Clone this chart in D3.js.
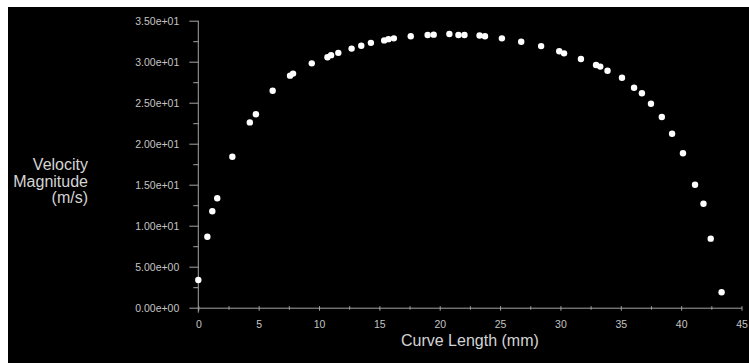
<!DOCTYPE html>
<html>
<head>
<meta charset="utf-8">
<script src="https://cdn.jsdelivr.net/npm/d3@7"></script>
<style>
  html, body { margin: 0; padding: 0; background: #fff; overflow: hidden; }
  body { padding: 7px 0 0 8px; }
  svg { display: block; background: #000; }
  text { font-family: "Liberation Sans", Arial, sans-serif; }
</style>
</head>
<body>
<svg width="741" height="356"></svg>
<script>
// velocity along the curve
var curveLength = [0, 0.75, 1.16, 1.57, 2.82, 4.27, 4.77, 6.16, 7.6, 7.85, 9.4,
    10.7, 11.0, 11.6, 12.7, 13.5, 14.3, 15.4, 15.75, 16.2, 17.6, 19.0, 19.5,
    20.8, 21.55, 22.05, 23.3, 23.75, 25.15, 26.75, 28.4, 29.9, 30.3, 31.7,
    32.95, 33.3, 33.9, 35.1, 36.1, 36.75, 37.5, 38.4, 39.25, 40.15, 41.15,
    41.85, 42.45, 43.35];
var velocity = [3.38, 8.66, 11.76, 13.34, 18.41, 22.6, 23.6, 26.46, 28.3, 28.55, 29.8,
    30.55, 30.8, 31.08, 31.6, 31.95, 32.3, 32.6, 32.75, 32.85, 33.1, 33.25, 33.3,
    33.38, 33.26, 33.26, 33.2, 33.1, 32.85, 32.44, 31.9, 31.27, 31.02, 30.33,
    29.6, 29.4, 28.9, 28.05, 26.83, 26.15, 24.88, 23.26, 21.22, 18.83, 15.0,
    12.68, 8.42, 1.88];

var xTicks = [0, 5, 10, 15, 20, 25, 30, 35, 40, 45];
var xMinor = [2.5, 7.5, 12.5, 17.5, 22.5, 27.5, 32.5, 37.5, 42.5];
var yTicks = [0, 5, 10, 15, 20, 25, 30, 35];
var yMinor = [2.5, 7.5, 12.5, 17.5, 22.5, 27.5, 32.5];

var yTitle = ["Velocity", "Magnitude", "(m/s)"];
var xTitle = "Curve Length (mm)";

var svg = d3.select("svg");

var x = d3.scaleLinear().domain([0, 45]).range([190.3, 733.5]);
var y = d3.scaleLinear().domain([0, 35]).range([300.7, 13.7]);

var lineColor = "#a4a4a4",
    labelColor = "#c4c4c4";

// exponent with two digits like 3.50e+01
function sci(v) {
    var s = d3.format(".2e")(v);
    return s.replace(/e([+-])(\d)$/, "e$10$2");
}

// y axis
var gy = svg.append("g")
    .attr("transform", "translate(" + x(0) + ",0)")
    .call(d3.axisLeft(y).tickValues(yTicks).tickFormat(sci)
        .tickSizeInner(9).tickSizeOuter(0).tickPadding(10));
gy.append("g")
    .call(d3.axisLeft(y).tickValues(yMinor).tickFormat("").tickSize(5));
gy.selectAll("g g .domain").remove();
gy.select(".domain")
    .attr("stroke", lineColor)
    .attr("d", "M0," + y(35) + "V" + (y(0) + 5));
gy.selectAll("line").attr("stroke", lineColor);
gy.selectAll("text")
    .attr("fill", labelColor)
    .attr("font-size", "10.5px");

// x axis
var gx = svg.append("g")
    .attr("transform", "translate(0," + y(0) + ")")
    .call(d3.axisBottom(x).tickValues(xTicks).tickFormat(d3.format("d"))
        .tickSizeInner(3).tickSizeOuter(0).tickPadding(10));
gx.append("g")
    .call(d3.axisBottom(x).tickValues(xMinor).tickFormat("").tickSize(2));
gx.selectAll("g g .domain").remove();
gx.select(".domain").attr("stroke", lineColor);
gx.selectAll("line").attr("stroke", lineColor).attr("y1", -1.5);
gx.selectAll("text")
    .attr("fill", labelColor)
    .attr("font-size", "10.5px");

// points
svg.append("g")
    .selectAll("circle")
    .data(curveLength)
    .enter().append("circle")
    .attr("cx", function (d) { return x(d); })
    .attr("cy", function (d, i) { return y(velocity[i]); })
    .attr("r", 3.2)
    .attr("fill", "#fff");

// titles
svg.append("text")
    .attr("x", (x(0) + x(45)) / 2)
    .attr("y", 339)
    .attr("text-anchor", "middle")
    .attr("font-size", "16px")
    .attr("fill", "#d4d4d4")
    .text(xTitle);

svg.append("g").selectAll("text")
    .data(yTitle)
    .enter().append("text")
    .attr("x", 80)
    .attr("y", function (d, i) { return 163 + i * 16.7; })
    .attr("text-anchor", "end")
    .attr("font-size", "16px")
    .attr("fill", "#d4d4d4")
    .text(function (d) { return d; });
</script>
</body>
</html>
